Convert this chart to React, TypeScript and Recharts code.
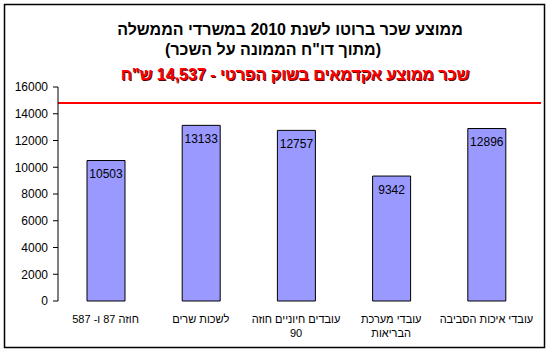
import { Bar, BarChart, LabelList, ReferenceLine, XAxis, YAxis } from "recharts";

const categories = [
  "חוזה 87 ו- 587",
  "לשכות שרים",
  "עובדים חיוניים חוזה 90",
  "עובדי מערכת הבריאות",
  "עובדי איכות הסביבה",
];
const tickLines = [
  ["חוזה 87 ו- 587"],
  ["לשכות שרים"],
  ["עובדים חיוניים חוזה", "90"],
  ["עובדי מערכת", "הבריאות"],
  ["עובדי איכות הסביבה"],
];
const salaries = [10503, 13133, 12757, 9342, 12896];
const yTicks = [0, 2000, 4000, 6000, 8000, 10000, 12000, 14000, 16000];
const boundaryTicks = [0, 1, 2, 3, 4, 5];
const privateSectorLine = 14800;

const title1 = "ממוצע שכר ברוטו לשנת 2010 במשרדי הממשלה";
const title2 = '(מתוך דו"ח הממונה על השכר)';
const redNote = 'שכר ממוצע אקדמאים בשוק הפרטי - 14,537 ש"ח';

const data = categories.map((name, i) => ({ name, value: salaries[i], idx: i }));

const font = "Arial, 'Liberation Sans', sans-serif";

const CategoryTick = (props: any) => {
  const { x, y, index } = props;
  const lines = tickLines[index] || [];
  return (
    <text x={x} y={y} textAnchor="middle" direction="rtl" fontSize={11} fontFamily={font} fill="#000">
      {lines.map((l, i) => (
        <tspan key={i} x={x} dy={i === 0 ? 22 : 14}>
          {l}
        </tspan>
      ))}
    </text>
  );
};

const RedLine = (props: any) => (
  <line x1={props.x1} y1={props.y1} x2={props.x2 + 7} y2={props.y2} stroke="#FF0000" strokeWidth={2} />
);

export default function App() {
  return (
    <div style={{ position: "absolute", left: 0, top: 0, width: 550, height: 353, background: "#fff" }}>
      <svg width={550} height={353} style={{ position: "absolute", left: 0, top: 0 }}>
        <rect x={4.5} y={4.5} width={540} height={343} fill="#fff" stroke="#000" strokeWidth={1.5} />
        <text x={290} y={35} textAnchor="middle" direction="rtl" fontSize={16} fontWeight="bold" fontFamily={font} fill="#000">
          {title1}
        </text>
        <text x={273} y={55} textAnchor="middle" direction="rtl" fontSize={16} fontWeight="bold" fontFamily={font} fill="#000">
          {title2}
        </text>
        <text x={296} y={81} textAnchor="middle" direction="rtl" fontSize={16} fontWeight="bold" fontFamily={font} fill="#5a0000">
          {redNote}
        </text>
        <text x={295} y={80} textAnchor="middle" direction="rtl" fontSize={16} fontWeight="bold" fontFamily={font} fill="#FF0000">
          {redNote}
        </text>
      </svg>
      <div style={{ position: "absolute", left: 0, top: 0 }}>
        <BarChart
          width={550}
          height={353}
          data={data}
          margin={{ top: 87, right: 16, bottom: 12, left: 8 }}
          barCategoryGap="30%"
        >
          <XAxis
            xAxisId="bounds"
            type="number"
            domain={[0, 5]}
            ticks={boundaryTicks}
            allowDataOverflow
            tick={false}
            tickSize={5}
            height={0}
            axisLine={{ stroke: "#000" }}
            tickLine={{ stroke: "#000" }}
          />
          <XAxis
            dataKey="name"
            height={40}
            axisLine={false}
            tickLine={false}
            tickSize={0}
            tickMargin={0}
            interval={0}
            tick={<CategoryTick />}
          />
          <YAxis
            domain={[0, 16000]}
            ticks={yTicks}
            width={50}
            tickSize={5}
            tickMargin={5}
            axisLine={{ stroke: "#000" }}
            tickLine={{ stroke: "#000" }}
            tick={{ fontSize: 12, fontFamily: font, fill: "#000" }}
          />
          <ReferenceLine y={privateSectorLine} xAxisId={0} shape={<RedLine />} ifOverflow="visible" />
          <Bar dataKey="value" fill="#9999FF" stroke="#000" strokeWidth={1} barSize={38} isAnimationActive={false}>
            <LabelList dataKey="value" position="insideTop" offset={9} fontSize={12} fontFamily={font} fill="#000" />
          </Bar>
        </BarChart>
      </div>
    </div>
  );
}
